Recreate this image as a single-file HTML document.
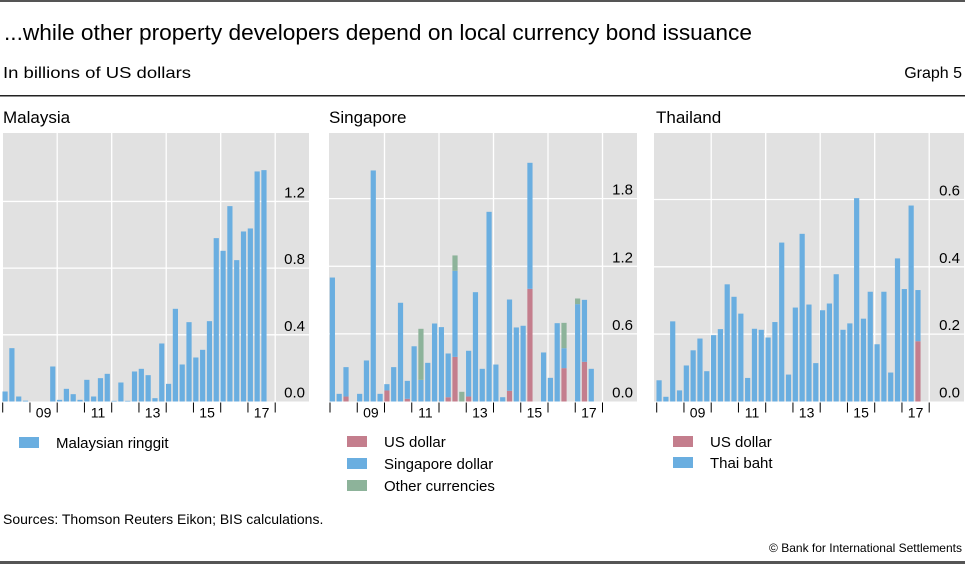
<!DOCTYPE html>
<html><head><meta charset="utf-8"><style>
body{margin:0;background:#fff;}
svg{display:block;font-family:"Liberation Sans",sans-serif;}
</style></head><body>
<svg id="c" width="965" height="564" viewBox="0 0 965 564">
<rect x="0" y="0" width="965" height="2" fill="#555"/>
<text x="4" y="40" font-size="22" fill="#000" textLength="748" lengthAdjust="spacingAndGlyphs">...while other property developers depend on local currency bond issuance</text>
<text x="3" y="78" font-size="16" fill="#000" textLength="188" lengthAdjust="spacingAndGlyphs">In billions of US dollars</text>
<text x="962" y="78" font-size="16" fill="#000" text-anchor="end">Graph 5</text>
<rect x="0" y="95" width="965" height="1.5" fill="#222"/>
<text x="3" y="123" font-size="17">Malaysia</text>
<text x="329" y="123" font-size="17">Singapore</text>
<text x="656" y="123" font-size="17">Thailand</text>
<g id="legends">
<rect x="19" y="437" width="20" height="11" fill="#6aaee0"/>
<text x="56" y="448" font-size="15">Malaysian ringgit</text>
<rect x="347" y="436" width="20" height="11" fill="#c47e8d"/>
<text x="384" y="447" font-size="15">US dollar</text>
<rect x="347" y="458" width="20" height="11" fill="#6aaee0"/>
<text x="384" y="469" font-size="15">Singapore dollar</text>
<rect x="347" y="480" width="20" height="11" fill="#8db39a"/>
<text x="384" y="491" font-size="15">Other currencies</text>
<rect x="673" y="436" width="20" height="11" fill="#c47e8d"/>
<text x="710" y="447" font-size="15">US dollar</text>
<rect x="673" y="457" width="20" height="11" fill="#6aaee0"/>
<text x="710" y="468" font-size="15">Thai baht</text>
</g>
<text x="3" y="524" font-size="14">Sources: Thomson Reuters Eikon; BIS calculations.</text>
<text x="962" y="552" font-size="12" text-anchor="end">© Bank for International Settlements</text>
<rect x="0" y="561" width="965" height="3" fill="#555"/>
</svg>
<script>
const yearLabels = ["09","11","13","15","17"];
const myRinggit = [0.06,0.32,0.03,0.005,0,0,0,0.21,0.01,0.076,0.044,0.01,0.13,0.03,0.14,0.166,0.004,0.114,0.004,0.18,0.196,0.158,0.02,0.348,0.106,0.556,0.222,0.476,0.264,0.31,0.482,0.98,0.904,1.172,0.848,1.02,1.038,1.38,1.388];
const sgUsd = [0,0,0.044,0,0,0,0,0,0.098,0,0,0.024,0,0,0,0,0,0.038,0.396,0,0.044,0,0,0,0,0,0.095,0,0,1.0,0,0,0,0,0.296,0,0,0.352,0];
const sgSgd = [1.10,0.068,0.261,0,0.068,0.364,2.05,0.068,0.056,0.305,0.876,0.159,0.49,0.192,0.343,0.692,0.66,0.388,0.764,0,0.406,0.97,0.29,1.683,0.328,0.038,0.81,0.657,0.672,1.118,0,0.435,0.21,0.695,0.177,0,0.864,0.55,0.29];
const sgOther = [0,0,0,0,0,0,0,0,0,0,0,0,0,0.453,0,0,0,0,0.136,0.086,0,0,0,0,0,0,0,0,0,0,0,0,0,0,0.225,0,0.05,0,0];
const thUsd = [0,0,0,0,0,0,0,0,0,0,0,0,0,0,0,0,0,0,0,0,0,0,0,0,0,0,0,0,0,0,0,0,0,0,0,0,0,0,0.179];
const thBaht = [0.063,0.014,0.238,0.033,0.107,0.152,0.187,0.09,0.197,0.215,0.348,0.311,0.261,0.07,0.216,0.213,0.19,0.236,0.472,0.08,0.279,0.498,0.288,0.114,0.271,0.291,0.378,0.213,0.232,0.604,0.246,0.326,0.17,0.326,0.086,0.425,0.334,0.582,0.152];
const myTicks = [0,0.4,0.8,1.2];
const sgTicks = [0,0.6,1.2,1.8];
const thTicks = [0,0.2,0.4,0.6];

const NS="http://www.w3.org/2000/svg";
const svg=document.getElementById('c');
function mk(tag,attrs,parent){const e=document.createElementNS(NS,tag);for(const k in attrs)e.setAttribute(k,attrs[k]);(parent||svg).appendChild(e);return e;}
const COLORS={usd:"#c47e8d",local:"#6aaee0",other:"#8db39a"};
function panel(name,gx0,gx1,tick0,pxPerUnit,ticks,layers){
  const top=133,base=401.5,yearW=27.25,qw=yearW/4;
  const g=mk('g',{});
  
  
  const bg=mk('rect',{x:gx0,y:top,width:gx1-gx0,height:base-top,fill:"#e1e1e1"},g);
  
  
  const yS=v=>base-v*pxPerUnit, xS=i=>tick0+(i+0.35)*qw;
  ticks.forEach(t=>{
    if(t>0){const l=mk('line',{x1:gx0,x2:gx1,y1:yS(t),y2:yS(t),stroke:"#fff","stroke-width":1.3},g);
      
      }
    const tx=mk('text',{x:gx1-4,y:yS(t)-4,"font-size":15,"text-anchor":"end"},g);
    tx.textContent=t.toFixed(1);
    
    
  });
  for(let y=2;y<=10;y+=2){const x=tick0+y*yearW;
    const l=mk('line',{x1:x,x2:x,y1:top,y2:base,stroke:"#fff","stroke-width":1.3},g);
    
    }
  for(let y=0;y<=10;y++){const x=tick0+y*yearW;
    const l=mk('line',{x1:x,x2:x,y1:base+1,y2:base+11,stroke:"#000","stroke-width":1},g);
    
    }
  yearLabels.forEach((lab,k)=>{
    const x=tick0+(1+2*k+0.5)*yearW;
    const tx=mk('text',{x:x,y:base+16,"font-size":14,"text-anchor":"middle"},g);
    tx.textContent=lab;
    
    
  });
  const n=layers[0].vals.length;
  for(let i=0;i<n;i++){let cum=0;
    layers.forEach(L=>{const v=L.vals[i];if(v<=0)return;
      const r=mk('rect',{x:xS(i)-2.6,y:yS(cum+v),width:5.2,height:v*pxPerUnit,fill:COLORS[L.key]},g);
      
      
      cum+=v;});
  }
}
panel('malaysia',3,309,2.7,166.7,myTicks,[{key:'local',vals:myRinggit}]);
panel('singapore',329,637,330,112.7,sgTicks,[{key:'usd',vals:sgUsd},{key:'local',vals:sgSgd},{key:'other',vals:sgOther}]);
panel('thailand',654,964,656.7,336.7,thTicks,[{key:'usd',vals:thUsd},{key:'local',vals:thBaht}]);
</script>
</body></html>
